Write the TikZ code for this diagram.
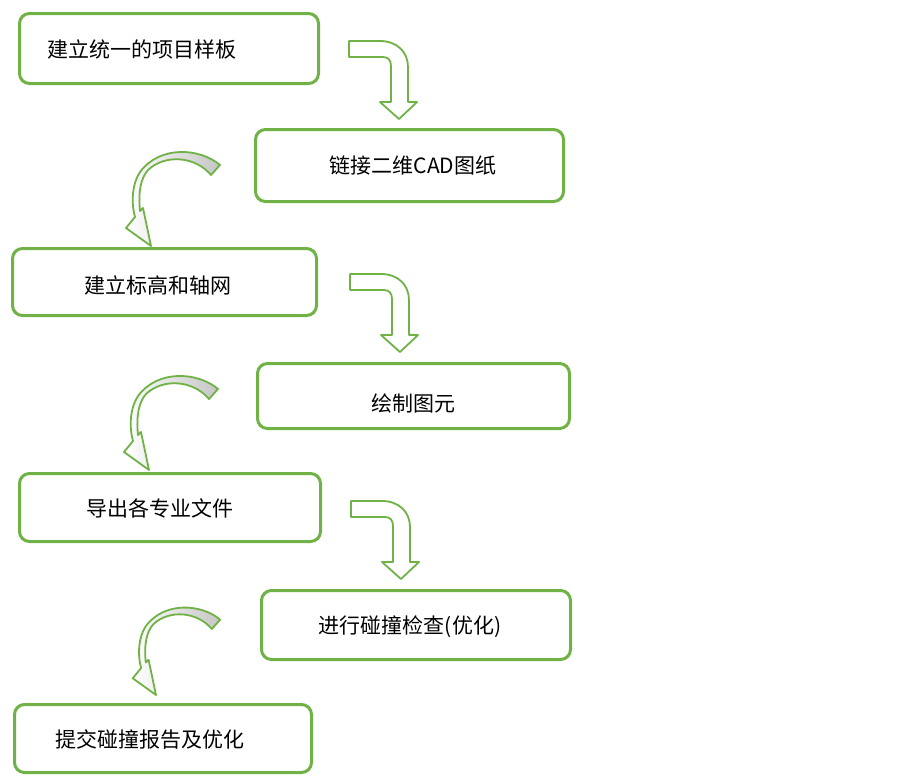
\documentclass[tikz,border=0pt]{standalone}
\usepackage{fontspec}
\newfontfamily\cjk{Noto Sans CJK SC}
\definecolor{boxgreen}{RGB}{112,178,70}
\tikzset{
  box/.style={draw=boxgreen, line width=3pt, rounded corners=10pt, fill=white, inner sep=0pt},
  lbl/.style={font=\cjk\fontsize{21}{25}\selectfont, inner sep=0pt, anchor=center, text=black},
  barrow/.style={draw=boxgreen, line width=1.8pt, fill=white, line join=round},
  carrow/.style={draw=boxgreen, line width=1.8pt, line join=round, left color=white, right color=gray!45},
}
\newcommand{\bentarrow}{(-50,-78) -- (-19,-78) .. controls (-2,-78) and (9,-67) .. (9,-52) -- (9,-17) -- (18,-17) -- (0,0) -- (-19,-17) -- (-8,-17) -- (-8,-53) .. controls (-8,-59) and (-11,-62) .. (-16,-62) -- (-50,-62) -- cycle}
\newcommand{\curvarrow}{(69,-81) .. controls (49,-98) and (9,-101) .. (-11,-74) .. controls (-19,-62) and (-20,-43) .. (-16,-29) -- (-25,-18) -- (0,0) -- (-8,-38) -- (-11,-35) .. controls (-13,-55) and (-10,-68) .. (-3,-76) .. controls (14,-92) and (44,-90) .. (60,-71) -- cycle}
\begin{document}
\begin{tikzpicture}[x=1pt,y=-1pt]
\useasboundingbox[fill=white] (0,0) rectangle (903,777);
% boxes
\node[box, minimum width=299, minimum height=70] (b1) at (169,48.5) {};
\node[box, minimum width=308, minimum height=72] (b2) at (409.5,165.5) {};
\node[box, minimum width=304, minimum height=67] (b3) at (164.5,282) {};
\node[box, minimum width=312, minimum height=65] (b4) at (413.5,396) {};
\node[box, minimum width=301, minimum height=68] (b5) at (170,507.5) {};
\node[box, minimum width=309, minimum height=69] (b6) at (416,625) {};
\node[box, minimum width=297, minimum height=68] (b7) at (163,738.5) {};
% labels
\node[lbl] (t1) at (142,49) {建立统一的项目样板};
\node[lbl] (t2) at (413,166) {链接二维CAD图纸};
\node[lbl] (t3) at (158,285) {建立标高和轴网};
\node[lbl] (t4) at (413,403) {绘制图元};
\node[lbl] (t5) at (160,508) {导出各专业文件};
\node[lbl] (t6) at (410,627) {进行碰撞检查(优化)};
\node[lbl] (t7) at (150,740) {提交碰撞报告及优化};
% bent arrows (right side)
\begin{scope}[shift={(399,119)}] \draw[barrow] \bentarrow; \end{scope}
\begin{scope}[shift={(400,352)}] \draw[barrow] \bentarrow; \end{scope}
\begin{scope}[shift={(401,579)}] \draw[barrow] \bentarrow; \end{scope}
% curved arrows (left side)
\begin{scope}[shift={(151,246)}] \draw[carrow] \curvarrow; \end{scope}
\begin{scope}[shift={(149,470)}] \draw[carrow] \curvarrow; \end{scope}
\begin{scope}[shift={(156,695)}, scale=0.93] \draw[carrow] \curvarrow; \end{scope}
\end{tikzpicture}
\end{document}
